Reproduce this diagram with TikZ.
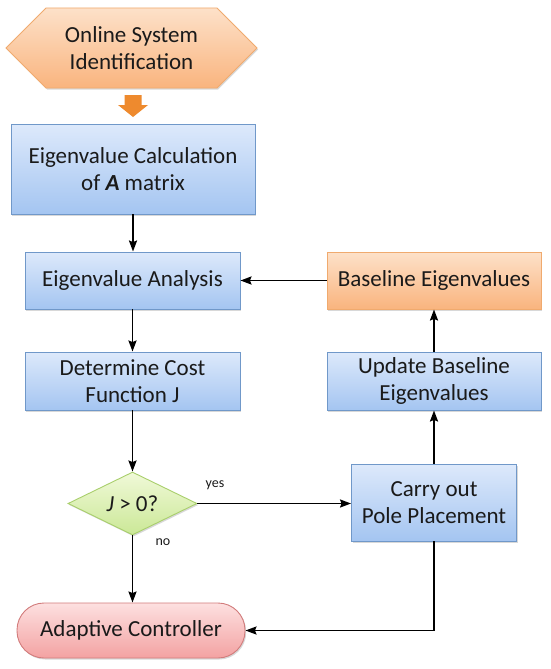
\documentclass[tikz,border=0pt]{standalone}
\usepackage{fontspec}
\setmainfont{Carlito}
\usetikzlibrary{arrows.meta,shapes.geometric,shapes.symbols,shadows}
\definecolor{blueedge}{HTML}{7098C9}
\definecolor{bluetop}{HTML}{DDE9FB}
\definecolor{bluebot}{HTML}{A4C5F1}
\definecolor{oredge}{HTML}{F0AA6E}
\definecolor{ortop}{HTML}{FDE1C9}
\definecolor{orbot}{HTML}{F9B47E}
\definecolor{greenedge}{HTML}{A9CF6C}
\definecolor{greentop}{HTML}{F0F9D8}
\definecolor{greenbot}{HTML}{CBE897}
\definecolor{rededge}{HTML}{D27C7C}
\definecolor{redtop}{HTML}{FDE0E0}
\definecolor{redbot}{HTML}{F3A2A2}
\definecolor{arrowor}{HTML}{EE8A2E}
\definecolor{ink}{HTML}{1A1A1A}
\newcommand\boxfont{\fontsize{23}{27}\selectfont}
\tikzset{
 flow/.style={draw=black,line width=1.9pt,-{Stealth[length=11pt,width=8pt,inset=1.5pt]}},
 softshadow/.style={drop shadow={shadow xshift=1.2pt,shadow yshift=-1.5pt,opacity=.3}},
 procbox/.style={rectangle,draw=blueedge,line width=.9pt,top color=bluetop,bottom color=bluebot,align=center,inner sep=0,text=ink,font=\boxfont,softshadow},
 basebox/.style={procbox,draw=oredge,top color=ortop,bottom color=orbot},
 startbox/.style={signal,signal to=west and east,signal pointer angle=90,draw=oredge,line width=.9pt,top color=ortop,bottom color=orbot,align=center,inner sep=0,text=ink,font=\boxfont,minimum width=251,minimum height=80,softshadow},
 decision/.style={diamond,aspect=2,draw=greenedge,line width=.9pt,top color=greentop,bottom color=greenbot,inner sep=0,text=ink,font=\boxfont,minimum width=129,minimum height=63,softshadow},
 endbox/.style={rectangle,rounded corners=27pt,draw=rededge,line width=.9pt,top color=redtop,bottom color=redbot,inner sep=0,text=ink,font=\boxfont,minimum width=228,minimum height=55,softshadow},
 note/.style={inner sep=0,text=ink,font=\fontsize{14}{16}\selectfont}
}
\begin{document}
\begin{tikzpicture}[x=1pt,y=-1pt]
\path[use as bounding box,fill=white] (0,0) rectangle (550,669);
\node[startbox] (ident) at (131.5,48) {Online System\\Identification};
\fill[arrowor] (124.5,95) -- (141.5,95) -- (141.5,105) -- (148,105) -- (133,117) -- (118,105) -- (124.5,105) -- cycle;
\node[procbox,minimum width=244,minimum height=90] (calc) at (133,169) {Eigenvalue Calculation\\of \textbf{\textit{A}} matrix};
\node[procbox,minimum width=215,minimum height=57] (anal) at (132.5,280.5) {Eigenvalue Analysis};
\node[basebox,minimum width=214,minimum height=57] (base) at (434,280.5) {Baseline Eigenvalues};
\node[procbox,minimum width=215,minimum height=58] (cost) at (132.5,381) {Determine Cost\\Function J};
\node[procbox,minimum width=214,minimum height=58] (upd) at (434,381) {Update Baseline\\Eigenvalues};
\node[decision] (dec) at (132.5,503.5) {\textit{J} > 0?};
\node[procbox,minimum width=165,minimum height=77] (pole) at (434,502.5) {Carry out\\Pole Placement};
\node[endbox] (ctrl) at (131,630.5) {Adaptive Controller};
\node[note] (yes) at (215,485) {yes};
\node[note] (no) at (163,542) {no};
% connectors
\draw[flow] (calc.south) -- (anal.north -| calc.south);
\draw[flow] (anal) -- (cost);
\draw[flow] (cost) -- (dec);
\draw[flow] (dec) -- (ctrl.north -| dec.south);
\draw[flow] (dec.east) -- (dec.east -| pole.west);
\draw[flow] (pole) -- (upd);
\draw[flow] (upd) -- (base);
\draw[flow] (base) -- (anal);
\draw[flow] (pole.south) |- (ctrl.east);
\end{tikzpicture}
\end{document}
